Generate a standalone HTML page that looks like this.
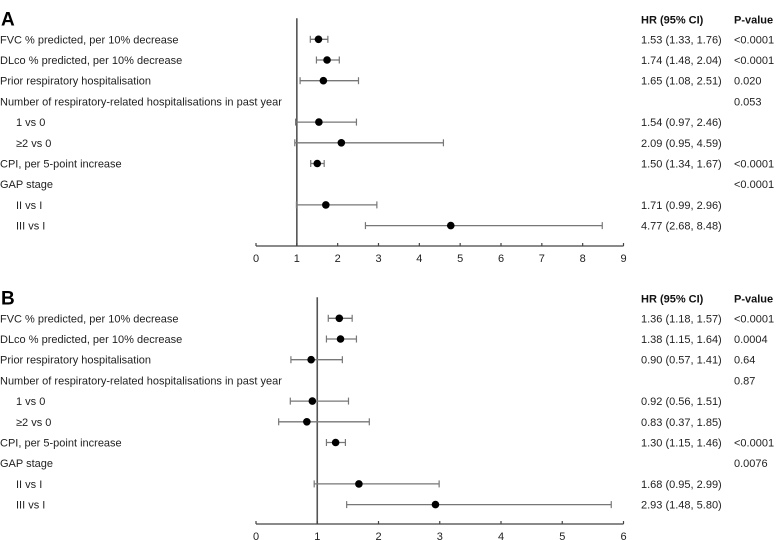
<!DOCTYPE html>
<html><head><meta charset="utf-8"><style>
html,body{margin:0;padding:0;background:#fff;}
svg{display:block;font-family:"Liberation Sans",Arial,sans-serif;}
</style></head><body>
<svg id="c" width="776" height="540" viewBox="0 0 776 540"></svg>
<script>
const rowLabels = ["FVC % predicted, per 10% decrease","DLco % predicted, per 10% decrease","Prior respiratory hospitalisation","Number of respiratory-related hospitalisations in past year","1 vs 0","\u22652 vs 0","CPI, per 5-point increase","GAP stage","II vs I","III vs I"];
const rowIndent = [0,0,0,0,1,1,0,0,1,1];
const hrA = [1.53,1.74,1.65,null,1.54,2.09,1.50,null,1.71,4.77];
const loA = [1.33,1.48,1.08,null,0.97,0.95,1.34,null,0.99,2.68];
const hiA = [1.76,2.04,2.51,null,2.46,4.59,1.67,null,2.96,8.48];
const pA = ["<0.0001","<0.0001","0.020","0.053","","","<0.0001","<0.0001","",""];
const hrB = [1.36,1.38,0.90,null,0.92,0.83,1.30,null,1.68,2.93];
const loB = [1.18,1.15,0.57,null,0.56,0.37,1.15,null,0.95,1.48];
const hiB = [1.57,1.64,1.41,null,1.51,1.85,1.46,null,2.99,5.80];
const pB = ["<0.0001","0.0004","0.64","0.87","","","<0.0001","0.0076","",""];
const ticksA = [0,1,2,3,4,5,6,7,8,9];
const ticksB = [0,1,2,3,4,5,6];

const NS="http://www.w3.org/2000/svg";
const svg=document.getElementById('c');
function mk(tag,attrs,parent){const e=document.createElementNS(NS,tag);for(const k in attrs)e.setAttribute(k,attrs[k]);(parent||svg).appendChild(e);return e;}
function fmt(v){return v.toFixed(2);}

function panel(letter, top, hr, lo, hi, pv, ticks, axisY){
  const g=mk('g',{});
  
  
  const xmin=ticks[0], xmax=ticks[ticks.length-1];
  const X0=256, X1=623.5;
  const sx=v=>X0+(v-xmin)/(xmax-xmin)*(X1-X0);
  const rowY=i=>top+20+i*20.7;
  const t=mk('text',{x:1,y:top+6,'font-size':19,'font-weight':'bold',fill:'#000'},g);
  t.textContent=letter;
  
  
  const h1=mk('text',{x:641,y:top+4,'font-size':11,'font-weight':'bold',fill:'#111'},g);
  h1.textContent="HR (95% CI)";
  
  
  const h2=mk('text',{x:734,y:top+4,'font-size':11,'font-weight':'bold',fill:'#111'},g);
  h2.textContent="P-value";
  
  
  // reference line at HR=1
  const ref=mk('line',{x1:sx(1),x2:sx(1),y1:top-1,y2:axisY,stroke:'#555','stroke-width':1.6},g);
  
  
  // axis
  const ax=mk('line',{x1:sx(xmin),x2:sx(xmax),y1:axisY,y2:axisY,stroke:'#444','stroke-width':1.2},g);
  
  
  ticks.forEach(v=>{
    const tk=mk('line',{x1:sx(v),x2:sx(v),y1:axisY-3,y2:axisY,stroke:'#444','stroke-width':1.2},g);
    
    
    const tl=mk('text',{x:sx(v),y:axisY+16,'font-size':11,'text-anchor':'middle',fill:'#222'},g);
    tl.textContent=v;
    
    
  });
  rowLabels.forEach((lab,i)=>{
    const y=rowY(i);
    const tx=mk('text',{x:rowIndent[i]?16:0,y:y+4,'font-size':11,fill:'#222'},g);
    tx.textContent=lab;
    
    
    if(hr[i]!==null){
      const ci=mk('line',{x1:sx(lo[i]),x2:sx(hi[i]),y1:y,y2:y,stroke:'#777','stroke-width':1.3},g);
      
      
      [lo[i],hi[i]].forEach(v=>{
        const cap=mk('line',{x1:sx(v),x2:sx(v),y1:y-3.5,y2:y+3.5,stroke:'#777','stroke-width':1.2},g);
        
        
      });
      const d=mk('circle',{cx:sx(hr[i]),cy:y,r:3.8,fill:'#000'},g);
      
      
      const ht=mk('text',{x:641,y:y+4,'font-size':11,fill:'#222'},g);
      ht.textContent=fmt(hr[i])+" ("+fmt(lo[i])+", "+fmt(hi[i])+")";
      
      
    }
    if(pv[i]){
      const pt=mk('text',{x:734,y:y+4,'font-size':11,fill:'#222'},g);
      pt.textContent=pv[i];
      
      
    }
  });
}
panel('A',19.3,hrA,loA,hiA,pA,ticksA,246);
panel('B',298.3,hrB,loB,hiB,pB,ticksB,524);
</script>
</body></html>
